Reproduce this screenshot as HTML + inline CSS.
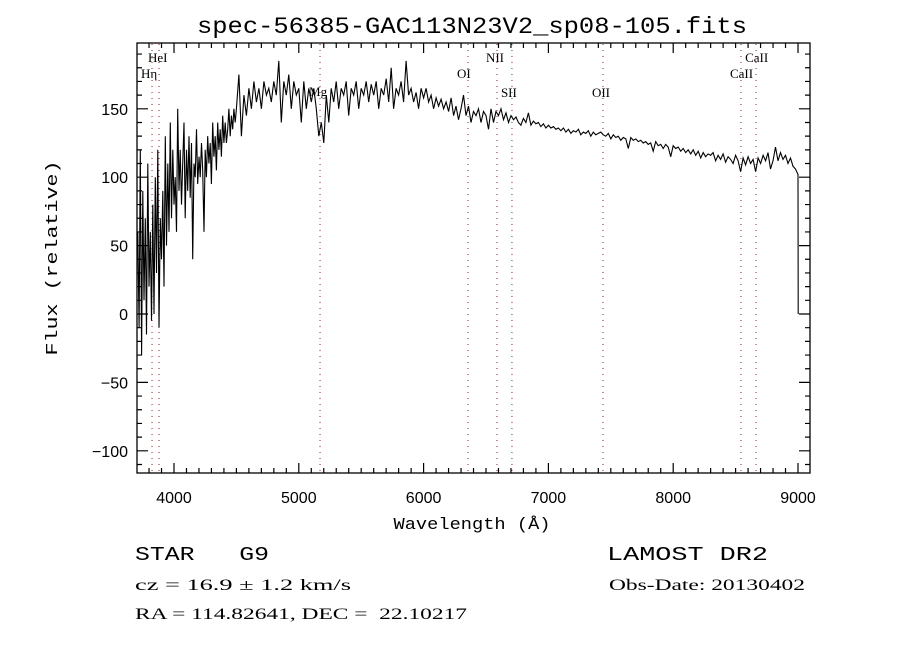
<!DOCTYPE html>
<html><head><meta charset="utf-8"><style>body{margin:0;background:#fff}svg{display:block}</style></head>
<body>
<svg id="chart" width="900" height="650" viewBox="0 0 900 650" xmlns="http://www.w3.org/2000/svg" font-family="'Liberation Serif', serif">
<rect width="900" height="650" fill="#fff"/>
<text x="472" y="33" text-anchor="middle" font-family="'Liberation Mono', monospace" font-size="23" textLength="550" lengthAdjust="spacingAndGlyphs">spec-56385-GAC113N23V2_sp08-105.fits</text>
<rect x="137" y="43" width="673" height="430" fill="none" stroke="#000" stroke-width="1.3"/>
<g id="ticks"></g><g id="lines"></g>
<path id="spec" fill="none" stroke="#000" stroke-width="1.1"/>
<text x="472" y="529" text-anchor="middle" font-family="'Liberation Mono', monospace" font-size="17" textLength="157" lengthAdjust="spacingAndGlyphs">Wavelength (Å)</text>
<text transform="translate(57,258) rotate(-90)" text-anchor="middle" font-family="'Liberation Mono', monospace" font-size="17" textLength="195" lengthAdjust="spacingAndGlyphs">Flux (relative)</text>
<text x="135" y="560" font-family="'Liberation Mono', monospace" font-size="19" textLength="134" lengthAdjust="spacingAndGlyphs" xml:space="preserve">STAR   G9</text>
<text x="135" y="590" font-size="16" textLength="216" lengthAdjust="spacingAndGlyphs">cz = 16.9 ± 1.2 km/s</text>
<text x="135" y="619" font-size="16" textLength="332" lengthAdjust="spacingAndGlyphs" xml:space="preserve">RA = 114.82641, DEC =  22.10217</text>
<text x="607" y="560" font-family="'Liberation Mono', monospace" font-size="19" textLength="161" lengthAdjust="spacingAndGlyphs">LAMOST DR2</text>
<text x="609" y="590" font-size="16" textLength="196" lengthAdjust="spacingAndGlyphs">Obs-Date: 20130402</text>
<script>
const xTicks=[4000,5000,6000,7000,8000,9000];
const yTicks=[-100,-50,0,50,100,150];
const lineNames=["Hη","HeI","Mg","OI","NII","SII","OII","CaII","CaII"];
const lineWaves=[3824,3880,5170,6356,6588,6708,7437,8543,8664];
const lineLabelY=[78,62,96,78,62,97,97,78,62];
const waves=[3710,3720,3730,3740,3750,3760,3770,3780,3790,3800,3810,3820,3830,3840,3850,3860,3870,3880,3890,3900,3910,3920,3930,3940,3950,3960,3970,3980,3990,4000,4010,4020,4030,4040,4050,4060,4070,4080,4090,4100,4110,4120,4130,4140,4150,4160,4170,4180,4190,4200,4210,4220,4230,4240,4250,4260,4270,4280,4290,4300,4310,4320,4330,4340,4350,4360,4370,4380,4390,4400,4410,4420,4430,4440,4450,4460,4470,4480,4490,4500];
const flux=[60,-10,120,-30,90,10,70,-15,110,20,60,-5,80,0,100,30,120,-10,70,40,90,20,130,50,110,60,140,70,120,80,100,60,150,90,120,80,110,140,70,120,90,130,85,125,40,110,100,135,95,115,100,125,105,60,120,100,130,110,125,95,140,115,130,105,140,120,135,115,145,125,140,125,135,150,130,145,135,150,140,150];
const redFlux=[175,130,160,145,165,150,170,155,165,150,170,160,165,155,170,160,185,140,170,160,175,150,170,160,165,140,170,150,165,155,165,150,130,140,125,160,140,165,155,170,150,165,160,170,145,165,160,170,150,165,160,170,155,168,160,170,150,165,160,172,155,180,150,165,160,170,155,185,160,165,155,162,150,165,158,165,155,160,150,158,152,157,150,155,148,158,145,152,142,150,160,145,152,140,148,145,150,140,148,145,135,150,140,148,145,150,142,147,140,145,142,144,140,138,143,140,147,138,141,139,140,137,139,136,138,136,137,135,136,134,136,133,135,132,134,133,135,131,133,132,134,130,133,131,132,133,131,130,132,128,131,129,130,127,129,128,121,129,127,128,126,127,125,126,124,125,119,126,123,124,121,124,122,115,123,121,122,119,121,118,120,117,120,116,119,114,118,115,117,116,118,112,116,113,117,111,115,113,110,116,112,104,114,109,115,110,113,104,114,110,116,112,118,106,112,122,112,118,113,116,110,114,108,106,102];
const redStart=4520, redStep=20;
const X=w=>174+(w-4000)*0.1248;
const Y=v=>314-v*1.368;
const NS="http://www.w3.org/2000/svg";
const tg=document.getElementById('ticks');
function mk(tag,attrs,parent){const e=document.createElementNS(NS,tag);for(const k in attrs)e.setAttribute(k,attrs[k]);parent.appendChild(e);return e;}
let td="";
for(let w=3800;w<=9000;w+=100){const x=X(w);const L=(w%1000===0)?10:5;td+=`M${x},473v${-L}M${x},43v${L}`;}
for(let v=-110;v<=190;v+=10){const y=Y(v);const L=(v%50===0)?11:5;td+=`M137,${y}h${L}M810,${y}h${-L}`;}
const tp=mk('path',{d:td,stroke:'#000','stroke-width':1.2,fill:'none'},tg);


xTicks.forEach(w=>{const t=mk('text',{x:X(w),y:503,'text-anchor':'middle','font-family':"'Liberation Sans', sans-serif",'font-size':16},tg);t.textContent=w;

});
yTicks.forEach(v=>{const t=mk('text',{x:128,y:Y(v)+6,'text-anchor':'end','font-family':"'Liberation Sans', sans-serif",'font-size':16},tg);t.textContent=(v<0?'\u2212'+(-v):v);

});
const lg=document.getElementById('lines');
lineWaves.forEach((w,i)=>{const l=mk('line',{x1:X(w),x2:X(w),y1:44,y2:472,stroke:'#8b2020','stroke-width':1,'stroke-dasharray':'1,5'},lg);


const t=mk('text',{x:X(w)-11,y:lineLabelY[i],'text-anchor':'start','font-size':13},lg);t.textContent=lineNames[i];

});
let d="";
waves.forEach((w,i)=>{d+=(i?'L':'M')+X(w).toFixed(1)+','+Y(flux[i]).toFixed(1);});
redFlux.forEach((v,i)=>{d+='L'+X(redStart+i*redStep).toFixed(1)+','+Y(v).toFixed(1);});
d+='L'+X(9002).toFixed(1)+','+Y(0).toFixed(1);
document.getElementById('spec').setAttribute('d',d);
</script>
</svg>
</body></html>
